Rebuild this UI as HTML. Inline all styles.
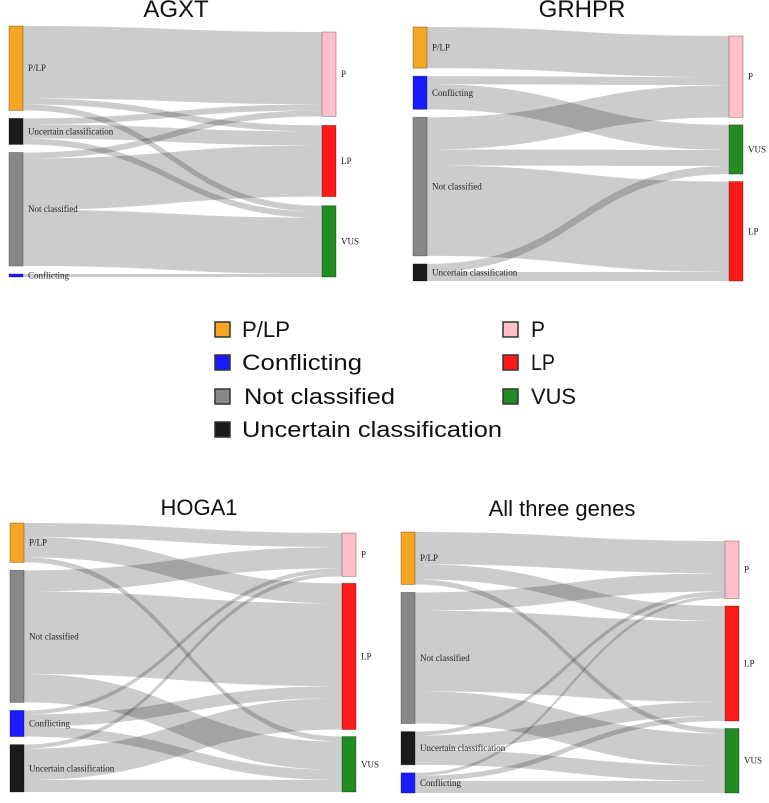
<!DOCTYPE html>
<html><head><meta charset="utf-8"><style>
html,body{margin:0;padding:0;background:#fff;}
svg{display:block;}
</style></head><body>
<svg id="fig" width="769" height="803" viewBox="0 0 769 803" xmlns="http://www.w3.org/2000/svg">
<g id="legend" font-family="Liberation Sans, sans-serif" font-size="22" fill="#111">
 <g><rect x="215" y="322" width="15" height="15" fill="#f5a623" stroke="#333" stroke-width="1.5"/><text x="242" y="337" textLength="48" lengthAdjust="spacingAndGlyphs">P/LP</text></g>
 <g><rect x="215" y="355" width="15" height="15" fill="#1a1aff" stroke="#333" stroke-width="1.5"/><text x="242" y="370" textLength="120" lengthAdjust="spacingAndGlyphs">Conflicting</text></g>
 <g><rect x="215" y="389" width="15" height="15" fill="#888" stroke="#333" stroke-width="1.5"/><text x="244" y="404" textLength="151" lengthAdjust="spacingAndGlyphs">Not classified</text></g>
 <g><rect x="215" y="422" width="15" height="15" fill="#1a1a1a" stroke="#333" stroke-width="1.5"/><text x="242" y="437" textLength="260" lengthAdjust="spacingAndGlyphs">Uncertain classification</text></g>
 <g><rect x="503" y="322" width="15" height="15" fill="#ffc0cb" stroke="#333" stroke-width="1.5"/><text x="531" y="337" textLength="14" lengthAdjust="spacingAndGlyphs">P</text></g>
 <g><rect x="503" y="355" width="15" height="15" fill="#ff1a1a" stroke="#333" stroke-width="1.5"/><text x="531" y="370" textLength="24" lengthAdjust="spacingAndGlyphs">LP</text></g>
 <g><rect x="503" y="389" width="15" height="15" fill="#228b22" stroke="#333" stroke-width="1.5"/><text x="531" y="404" textLength="45" lengthAdjust="spacingAndGlyphs">VUS</text></g>
</g>
</svg>
<script>
// ---- data ----
const agxtSources = ["P/LP","Uncertain classification","Not classified","Conflicting"];
const agxtTargets = ["P","LP","VUS"];
const agxtValues = [[72,6,6],[6,14,6],[6,51,56],[0,0,3]];

const grhprSources = ["P/LP","Conflicting","Not classified","Uncertain classification"];
const grhprTargets = ["P","VUS","LP"];
const grhprValues = [[41,0,0],[8,25,0],[32,16,90],[0,8,9]];

const hoga1Sources = ["P/LP","Not classified","Conflicting","Uncertain classification"];
const hoga1Targets = ["P","LP","VUS"];
const hoga1Values = [[14,20,5],[21,82,28],[4,12,10],[4,31,12]];

const allSources = ["P/LP","Not classified","Uncertain classification","Conflicting"];
const allTargets = ["P","LP","VUS"];
const allValues = [[32,15,5],[18,80,32],[4,14,15],[3,5,12]];

const nodeColors = {"P/LP":"#f5a623","Conflicting":"#1a1aff","Not classified":"#888888","Uncertain classification":"#1a1a1a","P":"#ffc0cb","LP":"#ff1a1a","VUS":"#228b22"};
const NS="http://www.w3.org/2000/svg";
const svg=document.getElementById('fig');

function slug(s){return s.toLowerCase().replace(/[^a-z0-9]+/g,'-').replace(/^-|-$/g,'');}

function drawPanel(cfg){
  const g=document.createElementNS(NS,'g');
  
  
  svg.appendChild(g);
  const t=document.createElementNS(NS,'text');
  
  
  t.setAttribute('x',cfg.titleX);t.setAttribute('y',cfg.titleY);
  t.setAttribute('text-anchor','middle');t.setAttribute('font-family','Liberation Sans, sans-serif');
  t.setAttribute('font-size',cfg.titleSize);t.setAttribute('fill','#111');
  t.textContent=cfg.title;g.appendChild(t);

  const S=cfg.sources,T=cfg.targets,V=cfg.values;
  const sTot=S.map((s,i)=>V[i].reduce((a,b)=>a+b,0));
  const tTot=T.map((t,j)=>V.reduce((a,r)=>a+r[j],0));
  const sum=sTot.reduce((a,b)=>a+b,0);
  const ky=(cfg.lb-cfg.lt-cfg.gap*(S.length-1))/sum;
  const rGap=(cfg.rb-cfg.rt-sum*ky)/(T.length-1);
  const sY=[],tY=[];let y=cfg.lt;
  sTot.forEach(v=>{sY.push(y);y+=v*ky+cfg.gap;});
  y=cfg.rt;tTot.forEach(v=>{tY.push(y);y+=v*ky+rGap;});
  const sOff=sY.slice(),tOff=tY.slice();
  const links=[];
  for(let i=0;i<S.length;i++)for(let j=0;j<T.length;j++){
    const w=V[i][j]*ky; if(w<=0)continue;
    links.push({i,j,w,y0:sOff[i]});sOff[i]+=w;
  }
  for(let j=0;j<T.length;j++)for(let i=0;i<S.length;i++){
    const l=links.find(k=>k.i===i&&k.j===j); if(!l)continue;
    l.y1=tOff[j];tOff[j]+=l.w;
  }
  const x0=cfg.lx+cfg.nw,x1=cfg.rx,xm=(x0+x1)/2;
  links.forEach(l=>{
    const p=document.createElementNS(NS,'path');
    
    
    const a=l.y0,b=l.y1,w=l.w;
    p.setAttribute('d',`M${x0},${a}C${xm},${a} ${xm},${b} ${x1},${b}L${x1},${b+w}C${xm},${b+w} ${xm},${a+w} ${x0},${a+w}Z`);
    p.setAttribute('fill','rgba(0,0,0,0.2)');
    g.appendChild(p);
  });
  function node(name,x,y0,h,lx){
    const r=document.createElementNS(NS,'rect');
    
    
    r.setAttribute('x',x);r.setAttribute('y',y0);r.setAttribute('width',cfg.nw);r.setAttribute('height',Math.max(h,2));
    r.setAttribute('fill',nodeColors[name]);r.setAttribute('stroke','rgba(0,0,0,0.35)');r.setAttribute('stroke-width','0.8');
    g.appendChild(r);
    const tx=document.createElementNS(NS,'text');
    
    
    tx.setAttribute('x',lx);tx.setAttribute('y',y0+h/2+3);
    tx.setAttribute('font-family','Liberation Serif, serif');tx.setAttribute('font-size','9');tx.setAttribute('fill','#222');
    tx.textContent=name;g.appendChild(tx);
  }
  S.forEach((s,i)=>node(s,cfg.lx,sY[i],sTot[i]*ky,cfg.lx+cfg.nw+5));
  T.forEach((t,j)=>node(t,cfg.rx,tY[j],tTot[j]*ky,cfg.rx+cfg.nw+5));
}

drawPanel({name:'agxt-panel',title:'AGXT',titleX:176,titleY:17,titleSize:24,sources:agxtSources,targets:agxtTargets,values:agxtValues,
  lx:9,rx:322,nw:14,lt:26,lb:277,gap:8,rt:32,rb:277});
drawPanel({name:'grhpr-panel',title:'GRHPR',titleX:582,titleY:17,titleSize:24,sources:grhprSources,targets:grhprTargets,values:grhprValues,
  lx:413,rx:729,nw:14,lt:27,lb:281,gap:8,rt:36,rb:281});
drawPanel({name:'hoga1-panel',title:'HOGA1',titleX:199,titleY:515,titleSize:22,sources:hoga1Sources,targets:hoga1Targets,values:hoga1Values,
  lx:10,rx:342,nw:14,lt:523,lb:792,gap:8,rt:533,rb:792});
drawPanel({name:'all-genes-panel',title:'All three genes',titleX:562,titleY:516,titleSize:22,sources:allSources,targets:allTargets,values:allValues,
  lx:401,rx:725,nw:14,lt:532,lb:793,gap:8,rt:541,rb:793});
</script>
</body></html>
